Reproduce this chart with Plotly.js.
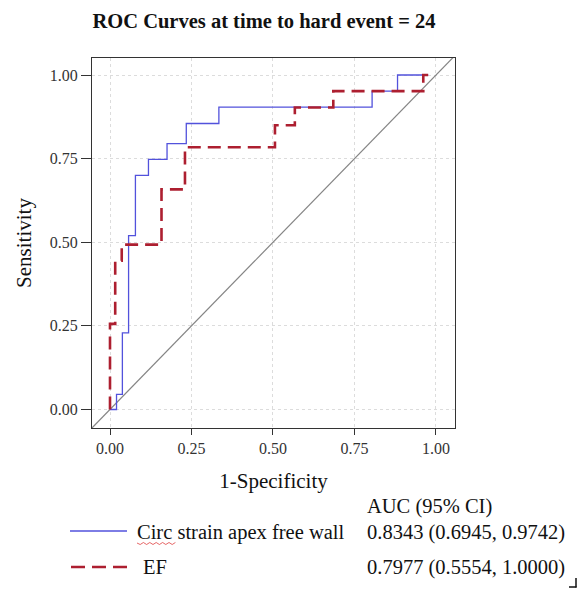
<!DOCTYPE html>
<html>
<head>
<meta charset="utf-8">
<script src="https://cdn.plot.ly/plotly-3.0.1.min.js"></script>
<style>html,body{margin:0;padding:0;background:#fff;}#chart{width:581px;height:592px;}</style>
</head>
<body>
<div id="chart"></div>
<script>
// ---- data ----
const fprCirc = [0, 0.02, 0.038, 0.057, 0.078, 0.118, 0.175, 0.234, 0.334, 0.804, 0.882, 0.976];
const tprCirc = [0, 0.045, 0.229, 0.52, 0.70, 0.748, 0.795, 0.855, 0.904, 0.952, 1.0, 1.0];
const fprEF = [0, 0, 0.016, 0.036, 0.158, 0.23, 0.506, 0.567, 0.685, 0.961, 0.976];
const tprEF = [0, 0.256, 0.445, 0.493, 0.658, 0.784, 0.85, 0.903, 0.952, 1.0, 1.0];
const refLine = [-0.2, 1.2];
const tickVals = [0, 0.25, 0.5, 0.75, 1];
const tickText = ['0.00', '0.25', '0.50', '0.75', '1.00'];
const seriesNames = ['Circ strain apex free wall', 'EF'];
const aucText = ['0.8343 (0.6945, 0.9742)', '0.7977 (0.5554, 1.0000)'];
const aucHeader = 'AUC (95% CI)';
const chartTitle = 'ROC Curves at time to hard event = 24';

// ---- layout helpers ----
const W = 581, H = 592;
const M = {l: 92, r: 126, t: 58, b: 164};
const PW = W - M.l - M.r, PH = H - M.t - M.b;
const px = x => (x - M.l) / PW;
const py = y => (H - M.b - y) / PH;
const FONT = 'Liberation Serif, Times New Roman, serif';
const BLUE = '#5252dc', RED = '#ad1f30';

const traces = [
  {x: refLine, y: refLine, mode: 'lines', line: {color: '#858585', width: 1.2}, hoverinfo: 'skip', showlegend: false},
  {x: fprCirc, y: tprCirc, mode: 'lines', line: {color: BLUE, width: 1.3, shape: 'hv'}, name: seriesNames[0], showlegend: false},
  {x: fprEF, y: tprEF, mode: 'lines', line: {color: RED, width: 2.6, shape: 'hv', dash: '13px,7px'}, name: seriesNames[1], showlegend: false}
];

const annFont = {family: FONT, size: 20.5, color: '#111'};
const ann = (x, y, text) => ({xref: 'paper', yref: 'paper', x: px(x), y: py(y), text: text,
  showarrow: false, xanchor: 'left', yanchor: 'middle', font: annFont, borderpad: 0});

// wavy underline under "Circ"
let wave = 'M ' + px(137) + ' ' + py(543);
for (let i = 1; i <= 12; i++) { wave += ' L ' + px(137 + i * 3.2) + ' ' + py(543 + (i % 2 ? 1.5 : -0.5)); }

const layout = {
  width: W, height: H,
  margin: M,
  paper_bgcolor: '#fff', plot_bgcolor: '#fff',
  font: {family: FONT, color: '#222'},
  title: {text: '<b>' + chartTitle + '</b>', xref: 'container', yref: 'container',
    x: 264 / W, xanchor: 'center', y: 1 - 21 / H, yanchor: 'middle',
    font: {family: FONT, size: 20.5, color: '#111'}},
  xaxis: {range: [-0.0552, 1.0583], tickvals: tickVals, ticktext: tickText,
    showline: true, mirror: true, linecolor: '#333', linewidth: 1,
    ticks: 'outside', ticklen: 6, tickcolor: '#333',
    showgrid: true, gridcolor: '#dcdcdc', griddash: 'dot', gridwidth: 1, zeroline: false,
    tickfont: {family: FONT, size: 16, color: '#333'},
    title: {text: '1-Specificity', font: {family: FONT, size: 21, color: '#111'}, standoff: 17}},
  yaxis: {range: [-0.0553, 1.0509], tickvals: tickVals, ticktext: tickText,
    showline: true, mirror: true, linecolor: '#333', linewidth: 1,
    ticks: 'outside', ticklen: 10, tickcolor: '#333',
    showgrid: true, gridcolor: '#dcdcdc', griddash: 'dot', gridwidth: 1, zeroline: false,
    tickfont: {family: FONT, size: 16, color: '#333'},
    title: {text: 'Sensitivity', font: {family: FONT, size: 21, color: '#111'}, standoff: 12}},
  annotations: [
    ann(366, 506, aucHeader),
    ann(136, 532, seriesNames[0]),
    ann(366, 532, aucText[0]),
    ann(142, 567, seriesNames[1]),
    ann(366, 567, aucText[1])
  ],
  shapes: [
    {type: 'line', xref: 'paper', yref: 'paper', x0: px(70), x1: px(127), y0: py(531), y1: py(531), line: {color: BLUE, width: 1.4}},
    {type: 'line', xref: 'paper', yref: 'paper', x0: px(71), x1: px(131), y0: py(567), y1: py(567), line: {color: RED, width: 2.6, dash: '14px,7px'}},
    {type: 'path', xref: 'paper', yref: 'paper', path: wave, line: {color: '#e04040', width: 0.8}},
    {type: 'line', xref: 'paper', yref: 'paper', x0: px(569), x1: px(576.5), y0: py(587), y1: py(587), line: {color: '#111', width: 1.5}},
    {type: 'line', xref: 'paper', yref: 'paper', x0: px(576), x1: px(576), y0: py(578), y1: py(587.5), line: {color: '#111', width: 1.5}}
  ]
};

Plotly.newPlot('chart', traces, layout, {staticPlot: true, displayModeBar: false});
</script>
</body>
</html>
